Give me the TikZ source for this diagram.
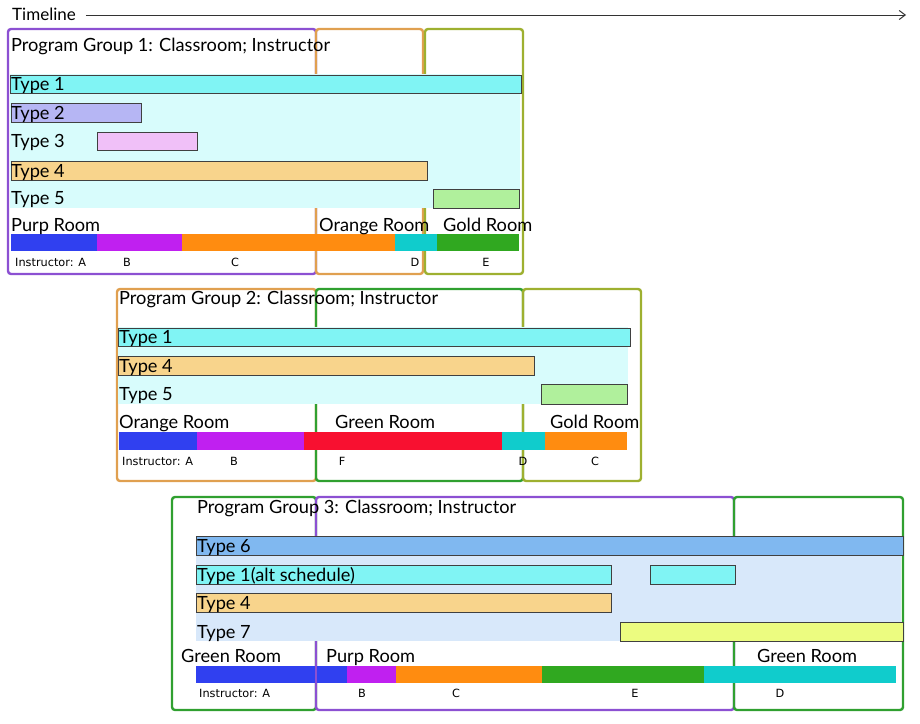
\documentclass[tikz,border=0pt]{standalone}
\usepackage{fontspec}
\setmainfont{Lato}
\newfontfamily\smallfont{DejaVu Sans}
\usetikzlibrary{arrows.meta}
\definecolor{cpurp}{HTML}{8C50D2}
\definecolor{corg}{HTML}{E0A050}
\definecolor{coliv}{HTML}{9EB030}
\definecolor{cgrn}{HTML}{30A030}
\definecolor{bgc}{HTML}{D8FCFC}
\definecolor{bgb}{HTML}{D8E8FA}
\definecolor{tone}{HTML}{80F4F4}
\definecolor{ttwo}{HTML}{B6B6F4}
\definecolor{tthree}{HTML}{F0C0F8}
\definecolor{tfour}{HTML}{F8D48C}
\definecolor{tfive}{HTML}{B0F09C}
\definecolor{tsix}{HTML}{80B8F0}
\definecolor{tseven}{HTML}{ECFC80}
\definecolor{ia}{HTML}{3040F0}
\definecolor{ib}{HTML}{C020F0}
\definecolor{ic}{HTML}{FF8C10}
\definecolor{id}{HTML}{10CCCC}
\definecolor{ie}{HTML}{30A820}
\definecolor{iff}{HTML}{F81030}
\tikzset{
  frame/.style={line width=2.4pt, rounded corners=3pt},
  barnode/.style={draw=black!75, line width=0.8pt, inner sep=0pt, outer sep=0pt, anchor=north west},
  segnode/.style={draw=none, inner sep=0pt, outer sep=0pt, anchor=north west},
  lab/.style={anchor=base west, inner sep=0pt, text=black, font=\fontsize{18.2}{18.2}\selectfont},
  roomlab/.style={anchor=base west, inner sep=0pt, text=black, font=\fontsize{18.2}{18.2}\selectfont},
  inst/.style={anchor=base, inner sep=0pt, text=black, font=\smallfont\fontsize{11.3}{11.3}\selectfont},
  instw/.style={inst, anchor=base west},
}
\newcommand\rect[6][]{\node[#1, minimum width={(#4-#2)*1pt}, minimum height={(#5-#3)*1pt}] (#6) at (#2,#3) {};}
\begin{document}
\begin{tikzpicture}[x=1pt,y=-1pt]
\useasboundingbox[fill=white] (0,0) rectangle (920,723);
% timeline
\node[anchor=base west, inner sep=0pt, font=\fontsize{17}{17}\selectfont] (tl) at (12,20) {Timeline};
\coordinate (tlend) at (906,15);
\draw[black!80, line width=1pt, -{Straight Barb[length=6pt,width=9pt]}] ([xshift=10pt]tl.east |- tlend) -- (tlend);

% ===== Group 1 =====
\draw[frame, cpurp] (8,29) rectangle (316,274);
\draw[frame, corg] (316,29) rectangle (423,274);
\draw[frame, coliv] (425,29) rectangle (523,274);
\node[lab, anchor=base west] (g1title) at (11,51) {Program Group 1: Classroom; Instructor};
\rect[segnode, fill=bgc]{10}{74}{520}{208}{g1bg}
\rect[barnode, fill=tone]{10}{75}{521}{93}{g1t1}
\rect[barnode, fill=ttwo]{11}{103}{141}{122}{g1t2}
\rect[barnode, fill=tthree]{97}{132}{197}{150}{g1t3}
\rect[barnode, fill=tfour]{11}{161}{427}{180}{g1t4}
\rect[barnode, fill=tfive]{433}{189}{519}{208}{g1t5}
\node[lab] (g1l1) at (11,90) {Type 1};
\node[lab] (g1l2) at (11,119) {Type 2};
\node[lab] (g1l3) at (11,147) {Type 3};
\node[lab] (g1l4) at (11,177) {Type 4};
\node[lab] (g1l5) at (11,204) {Type 5};
\rect[segnode, fill=ia]{11}{234}{97}{251}{g1sa}
\rect[segnode, fill=ib]{97}{234}{182}{251}{g1sb}
\rect[segnode, fill=ic]{182}{234}{395}{251}{g1sc}
\rect[segnode, fill=id]{395}{234}{437}{251}{g1sd}
\rect[segnode, fill=ie]{437}{234}{519}{251}{g1se}
\node[roomlab] (g1r1) at (11,231) {Purp Room};
\node[roomlab] (g1r2) at (319,231) {Orange Room};
\node[roomlab] (g1r3) at (443,231) {Gold Room};
\node[instw] (g1ia) at (15,266) {Instructor: A};
\node[inst] (g1ib) at (127,266) {B};
\node[inst] (g1ic) at (235,266) {C};
\node[inst] (g1id) at (415,266) {D};
\node[inst] (g1ie) at (486,266) {E};

% ===== Group 2 =====
\draw[frame, corg] (117,289) rectangle (316,481);
\draw[frame, cgrn] (316,289) rectangle (523,481);
\draw[frame, coliv] (523,289) rectangle (641,481);
\node[lab] (g2title) at (119,304) {Program Group 2: Classroom; Instructor};
\rect[segnode, fill=bgc]{118}{327}{628}{404}{g2bg}
\rect[barnode, fill=tone]{118}{328}{630}{346}{g2t1}
\rect[barnode, fill=tfour]{118}{356}{534}{375}{g2t4}
\rect[barnode, fill=tfive]{541}{384}{627}{404}{g2t5}
\node[lab] (g2l1) at (119,343) {Type 1};
\node[lab] (g2l4) at (119,372) {Type 4};
\node[lab] (g2l5) at (119,400) {Type 5};
\rect[segnode, fill=ia]{119}{432}{197}{450}{g2sa}
\rect[segnode, fill=ib]{197}{432}{304}{450}{g2sb}
\rect[segnode, fill=iff]{304}{432}{502}{450}{g2sf}
\rect[segnode, fill=id]{502}{432}{545}{450}{g2sd}
\rect[segnode, fill=ic]{545}{432}{627}{450}{g2sc}
\node[roomlab] (g2r1) at (119,428) {Orange Room};
\node[roomlab] (g2r2) at (335,428) {Green Room};
\node[roomlab] (g2r3) at (550,428) {Gold Room};
\node[instw] (g2ia) at (122,465) {Instructor: A};
\node[inst] (g2ib) at (234,465) {B};
\node[inst] (g2if) at (342,465) {F};
\node[inst] (g2id) at (523,465) {D};
\node[inst] (g2ic) at (595,465) {C};

% ===== Group 3 =====
\draw[frame, cgrn] (172,497) rectangle (316,710);
\draw[frame, cpurp] (316,497) rectangle (734,710);
\draw[frame, cgrn] (734,497) rectangle (903,710);
\node[lab] (g3title) at (197,513) {Program Group 3: Classroom; Instructor};
\rect[segnode, fill=bgb]{196}{536}{901}{641}{g3bg}
\rect[barnode, fill=tsix]{196}{536}{903}{555}{g3t6}
\rect[barnode, fill=tone]{196}{565}{611}{584}{g3t1}
\rect[barnode, fill=tone]{650}{565}{735}{584}{g3t1b}
\rect[barnode, fill=tfour]{196}{593}{611}{612}{g3t4}
\rect[barnode, fill=tseven]{620}{622}{903}{641}{g3t7}
\node[lab] (g3l6) at (197,552) {Type 6};
\node[lab] (g3l1) at (197,581) {Type 1(alt schedule)};
\node[lab] (g3l4) at (197,609) {Type 4};
\node[lab] (g3l7) at (197,638) {Type 7};
\rect[segnode, fill=ia]{196}{666}{347}{683}{g3sa}
\rect[segnode, fill=ib]{347}{666}{396}{683}{g3sb}
\rect[segnode, fill=ic]{396}{666}{542}{683}{g3sc}
\rect[segnode, fill=ie]{542}{666}{704}{683}{g3se}
\rect[segnode, fill=id]{704}{666}{896}{683}{g3sd}
\draw[cpurp, line width=2.4pt] (g3sa.north -| 316,0) -- (g3sa.south -| 316,0);
\node[roomlab] (g3r1) at (181,662) {Green Room};
\node[roomlab] (g3r2) at (326,662) {Purp Room};
\node[roomlab] (g3r3) at (757,662) {Green Room};
\node[instw] (g3ia) at (199,697) {Instructor: A};
\node[inst] (g3ib) at (362,697) {B};
\node[inst] (g3ic) at (456,697) {C};
\node[inst] (g3ie) at (635,697) {E};
\node[inst] (g3id) at (780,697) {D};
\end{tikzpicture}
\end{document}
